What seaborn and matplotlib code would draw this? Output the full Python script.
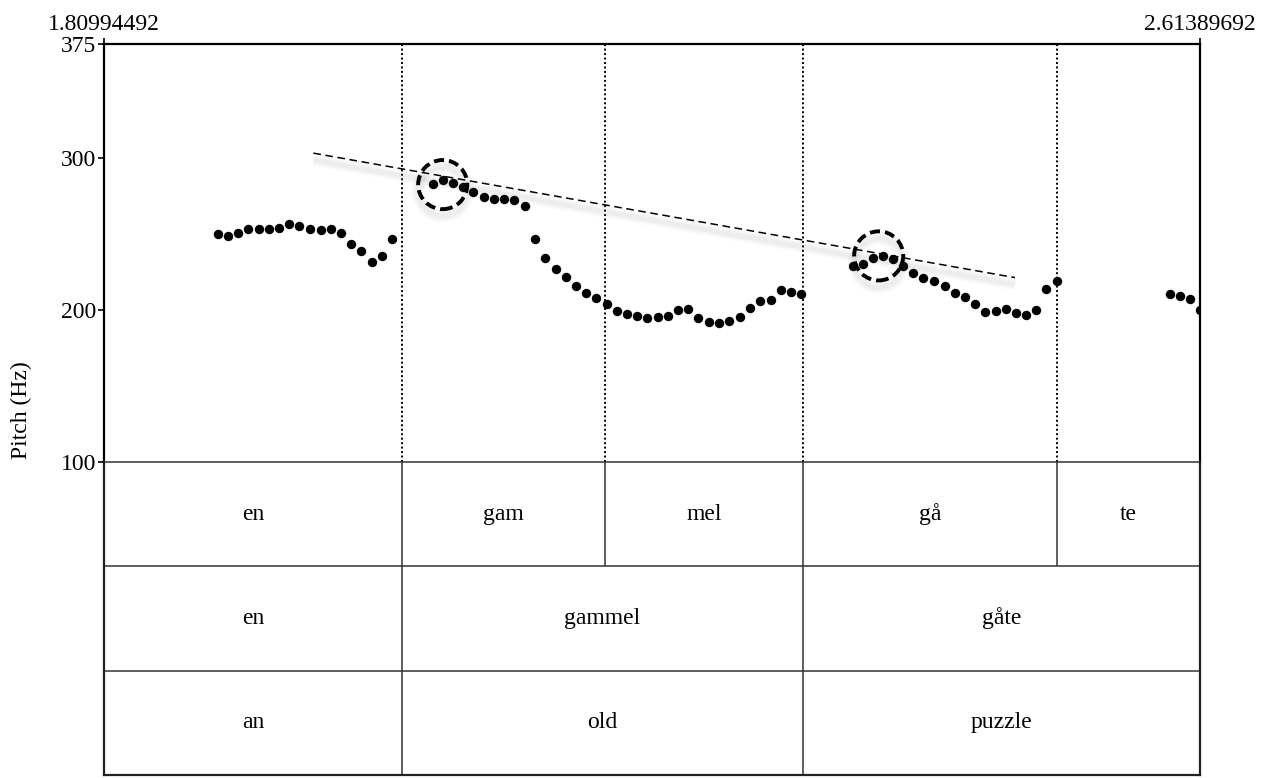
import matplotlib
matplotlib.use("Agg")
import matplotlib.pyplot as plt
import matplotlib.patheffects as pe
import seaborn as sns
import pandas as pd

# ---- time window (s) ----
t_start = 1.80994492
t_end = 2.61389692

# ---- pitch track (s, Hz) ----
pitch_time = [
    1.8938, 1.9011, 1.9085, 1.9158, 1.9236, 1.9310, 1.9385, 1.9459, 1.9532,
    1.9611, 1.9689, 1.9762, 1.9836, 1.9909, 1.9987, 2.0063, 2.0136, 2.0210,
    2.0515, 2.0588, 2.0662, 2.0735, 2.0808, 2.0887, 2.0960, 2.1034, 2.1107,
    2.1185, 2.1259, 2.1337, 2.1415, 2.1488, 2.1562, 2.1635, 2.1708, 2.1787,
    2.1860, 2.1938, 2.2011, 2.2085, 2.2163, 2.2237, 2.2312, 2.2386, 2.2459,
    2.2535, 2.2613, 2.2686, 2.2765, 2.2838, 2.2911, 2.2990, 2.3063, 2.3137,
    2.3212,
    2.3591, 2.3665, 2.3738, 2.3811, 2.3889, 2.3963, 2.4036, 2.4109, 2.4188,
    2.4266, 2.4340, 2.4413, 2.4491, 2.4564, 2.4639, 2.4714, 2.4789, 2.4865,
    2.4938, 2.5012, 2.5090,
    2.5917, 2.5990, 2.6063, 2.6137,
]
pitch_hz = [
    250.2, 248.6, 250.6, 253.5, 253.5, 253.0, 253.9, 256.6, 255.4,
    253.5, 252.8, 253.3, 250.6, 243.6, 239.1, 231.5, 235.6, 246.9,
    282.7, 285.6, 283.6, 280.7, 277.7, 274.4, 273.1, 273.1, 272.6,
    268.2, 246.9, 234.5, 227.1, 222.0, 215.8, 211.4, 207.9, 203.8,
    199.1, 197.4, 196.0, 194.9, 195.2, 196.2, 199.8, 200.5, 194.5,
    192.1, 191.4, 192.7, 195.6, 201.1, 205.9, 206.8, 213.2, 211.9,
    210.4,
    229.0, 230.2, 234.3, 235.6, 233.5, 229.0, 224.6, 221.3, 219.3,
    215.8, 211.2, 208.8, 204.2, 198.7, 199.3, 200.7, 197.8, 196.9,
    199.8, 214.1, 219.3,
    210.6, 209.0, 207.3, 199.8,
]

# downtrend line through the accent peaks
trend_time = [1.9635, 2.4782]
trend_hz = [303.2, 221.3]

# accent peaks
peak_time = [2.0584, 2.3782]
peak_hz = [282.5, 235.6]

# ---- annotation tiers ----
syllable_labels = ["en", "gam", "mel", "gå", "te"]
syllable_bounds = [t_start, 2.02854, 2.17744, 2.32268, 2.50900, t_end]
word_labels = ["en", "gammel", "gåte"]
word_bounds = [t_start, 2.02854, 2.32268, t_end]
gloss_labels = ["an", "old", "puzzle"]
gloss_bounds = [t_start, 2.02854, 2.32268, t_end]

y_ticks = [100, 200, 300, 375]

# ---- style ----
sns.set_theme(style="ticks")
plt.rcParams["font.family"] = ["Liberation Serif", "DejaVu Serif"]
plt.rcParams["font.size"] = 17

W, H = 1273, 778
fig = plt.figure(figsize=(W / 100, H / 100), dpi=100)
fig.patch.set_facecolor("white")

left = 104 / W
width = 1096 / W
ax_t = fig.add_axes([left, (H - 775) / H, width, 313 / H])
ax = fig.add_axes([left, (H - 462) / H, width, 418 / H])


def soft_shadow(widths, alphas, offset=(0, -5)):
    """Stacked translucent strokes that read as a blurred drop shadow."""
    solid = dict(dash_offset=0, dash_list=None)
    effects = [
        pe.SimpleLineShadow(offset=offset, shadow_color="0.35", alpha=a,
                            linewidth=w, dashes=solid)
        for w, a in zip(widths, alphas)
    ]
    return effects + [pe.Normal()]


# ---- pitch panel ----
ax.set_xlim(t_start, t_end)
ax.set_ylim(100, 375)
ax.set_facecolor("none")

ax.vlines(syllable_bounds[1:-1], 100, 375, colors="black",
          linestyles=(0, (1, 1.3)), linewidth=1.4, zorder=1)

pitch_df = pd.DataFrame({"time": pitch_time, "hz": pitch_hz})
sns.scatterplot(data=pitch_df, x="time", y="hz", color="black", s=46,
                linewidth=0, ax=ax, zorder=3)

trend_df = pd.DataFrame({"time": trend_time, "hz": trend_hz})
sns.lineplot(data=trend_df, x="time", y="hz", color="black", linewidth=1.1,
             linestyle=(0, (5, 3)), ax=ax, zorder=4,
             path_effects=soft_shadow([9, 6, 3.5], [0.025, 0.035, 0.05]))

peak_df = pd.DataFrame({"time": peak_time, "hz": peak_hz})
ax.scatter(peak_df["time"], peak_df["hz"], s=1250, marker="o",
           facecolors="none", edgecolors="black", linewidths=2.8,
           linestyle=(0, (2.6, 1.3)), zorder=5,
           path_effects=soft_shadow([10, 7, 4], [0.025, 0.035, 0.05]))

ax.set_xlabel("")
ax.set_ylabel("")
ax.set_yticks(y_ticks)
ax.set_yticklabels([str(v) for v in y_ticks])
ax.tick_params(axis="y", direction="out", length=4.5, width=1.2, pad=1,
               labelsize=17, colors="black")
ax.xaxis.tick_top()
ax.set_xticks([t_start, t_end])
ax.set_xticklabels([f"{t_start:.8f}", f"{t_end:.8f}"])
ax.tick_params(axis="x", direction="out", length=4.5, width=1.2, pad=2,
               labelsize=17, colors="black", top=True, bottom=False)
for side in ["left", "top", "right"]:
    ax.spines[side].set_linewidth(1.6)
    ax.spines[side].set_color("black")
ax.spines["bottom"].set_linewidth(1.1)
ax.spines["bottom"].set_color("#333333")
ax.grid(False)

# ---- tier panel ----
ax_t.set_xlim(t_start, t_end)
ax_t.set_ylim(0, 3)
ax_t.set_xticks([])
ax_t.set_yticks([])
ax_t.set_facecolor("white")
for side in ["left", "right", "bottom"]:
    ax_t.spines[side].set_linewidth(1.6)
    ax_t.spines[side].set_color("#222222")
ax_t.spines["top"].set_visible(False)

tiers = [
    (syllable_labels, syllable_bounds, 2),
    (word_labels, word_bounds, 1),
    (gloss_labels, gloss_bounds, 0),
]
ax_t.hlines([1, 2], t_start, t_end, colors="#333333", linewidth=1.1)
for labels, bounds, row in tiers:
    ax_t.vlines(bounds[1:-1], row, row + 1, colors="#333333", linewidth=1.1)
    for lab, a, b in zip(labels, bounds[:-1], bounds[1:]):
        ax_t.text((a + b) / 2, row + 0.5, lab, ha="center", va="center",
                  fontsize=17, color="black")

fig.text(21 / W, 1 - 410 / H, "Pitch (Hz)", rotation=90, ha="center",
         va="center", fontsize=17, color="black")

fig.savefig("out.png", dpi=100, facecolor="white")
